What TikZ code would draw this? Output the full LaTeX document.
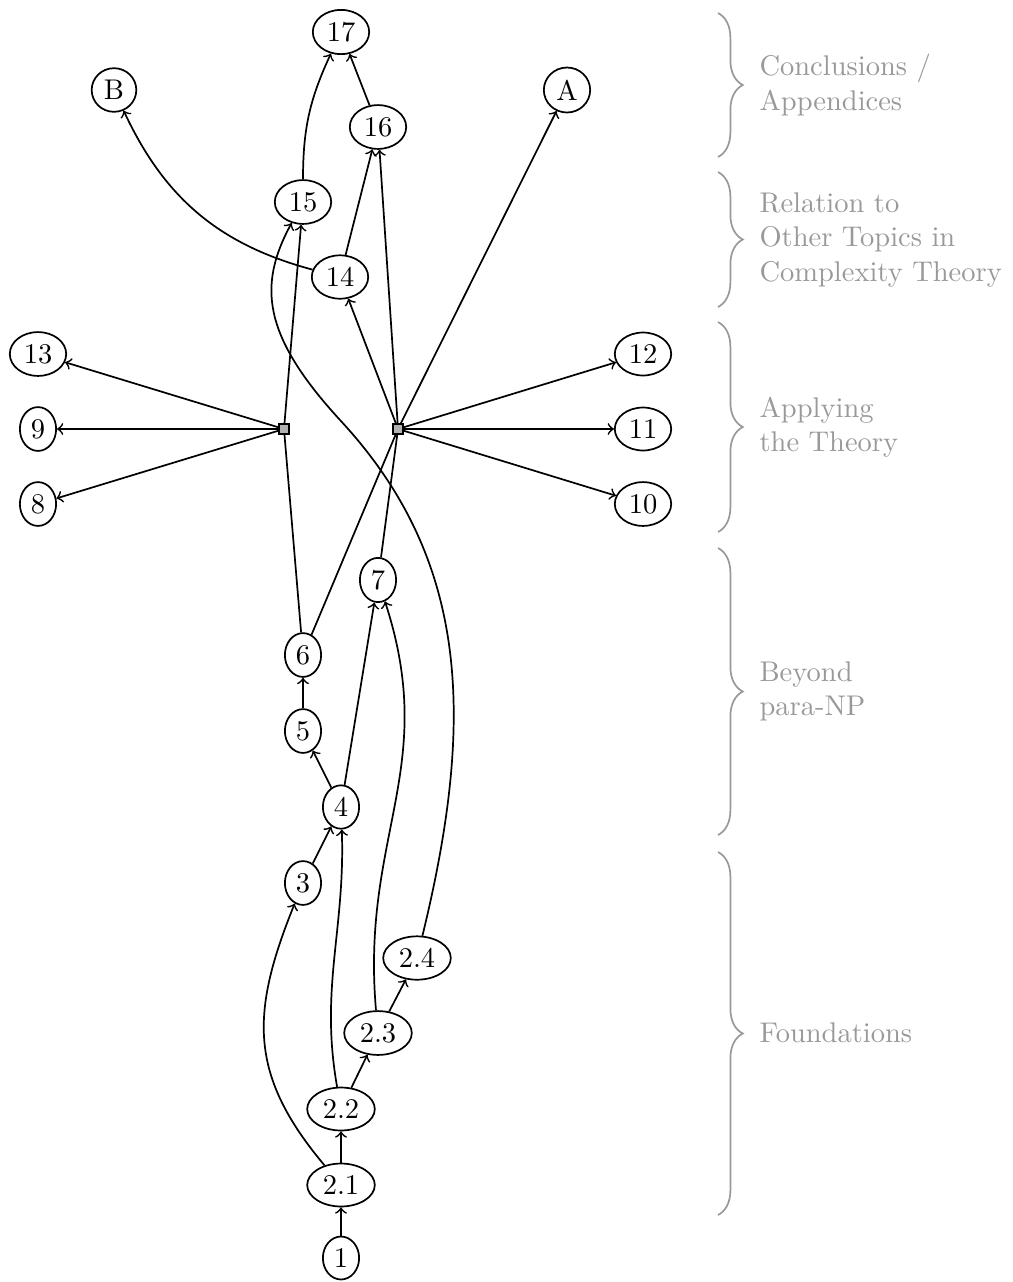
\documentclass[tikz,border=0pt]{standalone}
\usetikzlibrary{shapes.geometric,decorations.pathreplacing}
\begin{document}
\begin{tikzpicture}[x=0.351pt,y=0.351pt,
  nd/.style={draw,ellipse,inner sep=2pt,line width=0.6pt},
  junc/.style={draw,rectangle,fill=gray!60,minimum size=3.6pt,inner sep=0pt,line width=0.5pt},
  edge/.style={line width=0.6pt},
  arr/.style={->,line width=0.6pt},
  br/.style={decorate,decoration={brace,amplitude=8.7pt},draw=black!40,line width=0.6pt},
  lab/.style={anchor=west,align=left,text=black!40,inner sep=0pt}]
\useasboundingbox (0,0) rectangle (1013,-1282);
% nodes
\node[nd] (n17) at (341,-32) {17};
\node[nd] (nB) at (114,-90) {B};
\node[nd] (nA) at (567,-90) {A};
\node[nd] (n16) at (378,-127) {16};
\node[nd] (n15) at (303,-202) {15};
\node[nd] (n14) at (340,-277) {14};
\node[nd] (n13) at (38,-354) {13};
\node[nd] (n12) at (643,-354) {12};
\node[nd] (n9) at (38,-429) {9};
\node[nd] (n11) at (643,-429) {11};
\node[nd] (n8) at (38,-504) {8};
\node[nd] (n10) at (643,-504) {10};
\node[junc] (jL) at (284,-429) {};
\node[junc] (jR) at (398,-429) {};
\node[nd] (n7) at (378,-580) {7};
\node[nd] (n6) at (303,-655) {6};
\node[nd] (n5) at (303,-731) {5};
\node[nd] (n4) at (341,-807) {4};
\node[nd] (n3) at (303,-883) {3};
\node[nd] (n24) at (417,-958) {2.4};
\node[nd] (n23) at (378,-1033) {2.3};
\node[nd] (n22) at (341,-1109) {2.2};
\node[nd] (n21) at (341,-1185) {2.1};
\node[nd] (n1) at (341,-1258) {1};
% edges
\draw[arr] (n1) -- (n21);
\draw[arr] (n21) -- (n22);
\draw[arr] (n21) to[out=130,in=-112,looseness=1.15] (n3);
\draw[arr] (n22) -- (n23);
\draw[arr] (n22) to[out=100,in=-88] (n4);
\draw[arr] (n23) -- (n24);
\draw[arr] (n23) to[out=95,in=-72,looseness=1.1] (n7);
\draw[arr] (n24) .. controls (475,-720) and (470,-560) .. (340,-420) .. controls (262,-335) and (258,-285) .. (n15);
\draw[arr] (n3) -- (n4);
\draw[arr] (n4) -- (n5);
\draw[arr] (n4) -- (n7);
\draw[arr] (n5) -- (n6);
\draw[edge] (n6) -- (jL);
\draw[edge] (n6) -- (jR);
\draw[edge] (n7) -- (jR);
\draw[arr] (jL) -- (n15);
\draw[arr] (jL) -- (n13);
\draw[arr] (jL) -- (n9);
\draw[arr] (jL) -- (n8);
\draw[arr] (jR) -- (n12);
\draw[arr] (jR) -- (n11);
\draw[arr] (jR) -- (n10);
\draw[arr] (jR) -- (n14);
\draw[arr] (jR) -- (n16);
\draw[arr] (jR) -- (nA);
\draw[arr] (n14) -- (n16);
\draw[arr] (n14) to[out=165,in=-65] (nB);
\draw[arr] (n15) to[out=90,in=-115] (n17);
\draw[arr] (n16) -- (n17);
% braces
\coordinate (b1t) at (718,-13); \coordinate (b1b) at (718,-157);
\coordinate (b2t) at (718,-172); \coordinate (b2b) at (718,-307);
\coordinate (b3t) at (718,-322); \coordinate (b3b) at (718,-532);
\coordinate (b4t) at (718,-548); \coordinate (b4b) at (718,-835);
\coordinate (b5t) at (718,-852); \coordinate (b5b) at (718,-1215);
\draw[br] (b1t) -- (b1b);
\draw[br] (b2t) -- (b2b);
\draw[br] (b3t) -- (b3b);
\draw[br] (b4t) -- (b4b);
\draw[br] (b5t) -- (b5b);
\node[lab] (l1) at (759,-85) {Conclusions /\\Appendices};
\node[lab] (l2) at (759,-240) {Relation to\\Other Topics in\\Complexity Theory};
\node[lab] (l3) at (759,-427) {Applying\\the Theory};
\node[lab] (l4) at (759,-691) {Beyond\\para-NP};
\node[lab] (l5) at (759,-1033) {Foundations};
\end{tikzpicture}
\end{document}
